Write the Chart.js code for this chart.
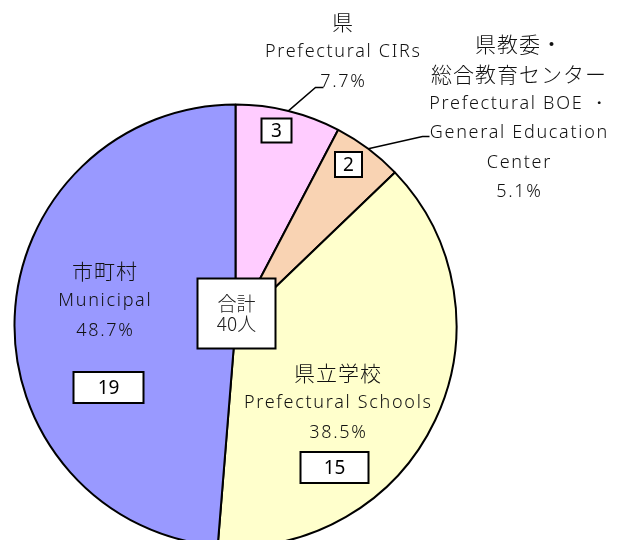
<!DOCTYPE html>
<html>
<head>
<meta charset="utf-8">
<script src="https://cdn.jsdelivr.net/npm/chart.js@4"></script>
<style>
    body { margin: 0; background: #fff; }
    #wrap { width: 620px; height: 540px; overflow: hidden; }
</style>
</head>
<body>
<div id="wrap"><canvas id="myChart" width="620" height="540"></canvas></div>
<script>
// data
const namesJa = ["県", "県教委・\n総合教育センター", "県立学校", "市町村"];
const namesEn = ["Prefectural CIRs", "Prefectural BOE ・\nGeneral Education\nCenter", "Prefectural Schools", "Municipal"];
const counts = [3, 2, 15, 19];
const percentLabels = ["7.7%", "5.1%", "38.5%", "48.7%"];
const colors = ["#FFCCFF", "#F9D3B3", "#FFFFCC", "#9999FF"];
const totalTitle = "合計";
const totalValue = "40人";

const jaFont = {font: "300 21px 'Noto Sans CJK JP'", spacing: 1};
const enFont = {font: "300 18px 'Noto Sans'", spacing: 1.7};
const numFont = "19px 'Noto Sans'";
const textColor = "#111";

// where each label goes, relative to the pie centre
const labelLayout = [
    {tx: 107, ty: -303, box: [41, -195, 30, 24], leader: [[80, -238], [88, -238]]},
    {tx: 283, ty: -281, box: [113, -161, 27, 25], leader: [[187, -189], [194, -189]]},
    {tx: 102, ty: 48, box: [99, 142, 68, 31]},
    {tx: -131, ty: -54, box: [-127, 62, 70, 31]}
];

function drawLines(ctx, lines, x, y, step) {
    lines.forEach((l, i) => {
        ctx.font = l.style.font;
        ctx.letterSpacing = l.style.spacing + "px";
        // letterSpacing also pads the last glyph, so shift back by half of it
        ctx.fillText(l.text, x + l.style.spacing / 2, y + i * step);
    });
    ctx.letterSpacing = "0px";
}

const labelPlugin = {
    id: "labelPlugin",
    afterDraw(chart) {
        const ctx = chart.ctx;
        const arcs = chart.getDatasetMeta(0).data;
        const cx = arcs[0].x, cy = arcs[0].y, r = arcs[0].outerRadius;
        ctx.save();
        ctx.textAlign = "center";
        ctx.textBaseline = "middle";

        arcs.forEach((arc, i) => {
            const lay = labelLayout[i];
            const mid = (arc.startAngle + arc.endAngle) / 2;

            // leader line from the edge of the slice
            if (lay.leader) {
                ctx.strokeStyle = "#000";
                ctx.lineWidth = 1.5;
                ctx.beginPath();
                ctx.moveTo(cx + r * Math.cos(mid), cy + r * Math.sin(mid));
                lay.leader.forEach(p => ctx.lineTo(cx + p[0], cy + p[1]));
                ctx.stroke();
            }

            // name + percentage
            let lines = [];
            namesJa[i].split("\n").forEach(t => lines.push({text: t, style: jaFont}));
            namesEn[i].split("\n").forEach(t => lines.push({text: t, style: enFont}));
            lines.push({text: percentLabels[i], style: enFont});
            ctx.fillStyle = textColor;
            drawLines(ctx, lines, cx + lay.tx, cy + lay.ty, 29.5);

            // count box
            const b = lay.box;
            const bx = cx + b[0] - b[2] / 2, by = cy + b[1] - b[3] / 2;
            ctx.fillStyle = "#fff";
            ctx.fillRect(bx, by, b[2], b[3]);
            ctx.strokeStyle = "#000";
            ctx.lineWidth = 2;
            ctx.strokeRect(bx, by, b[2], b[3]);
            ctx.fillStyle = "#000";
            ctx.font = numFont;
            ctx.fillText(String(counts[i]), cx + b[0], cy + b[1] + 1);
        });

        // total box in the middle
        ctx.fillStyle = "#fff";
        ctx.fillRect(cx - 38, cy - 47, 78, 70);
        ctx.strokeStyle = "#000";
        ctx.lineWidth = 2;
        ctx.strokeRect(cx - 38, cy - 47, 78, 70);
        ctx.fillStyle = "#222";
        ctx.font = "300 19px 'Noto Sans CJK JP'";
        ctx.fillText(totalTitle, cx + 1, cy - 22);
        ctx.fillText(totalValue, cx + 1, cy - 2);
        ctx.restore();
    }
};

const ctx = document.getElementById("myChart");

const myChart = new Chart(ctx, {
    type: "pie",
    data: {
        labels: namesJa,
        datasets: [
            {
                data: counts,
                backgroundColor: colors,
                borderColor: "#000",
                borderWidth: 2,
                clip: false
            }
        ]
    },
    options: {
        responsive: false,
        animation: false,
        radius: 221,
        layout: {
            padding: {left: 0, right: 149, top: 111, bottom: 0}
        },
        plugins: {
            legend: {display: false},
            tooltip: {enabled: false}
        }
    },
    plugins: [labelPlugin]
});
</script>
</body>
</html>
